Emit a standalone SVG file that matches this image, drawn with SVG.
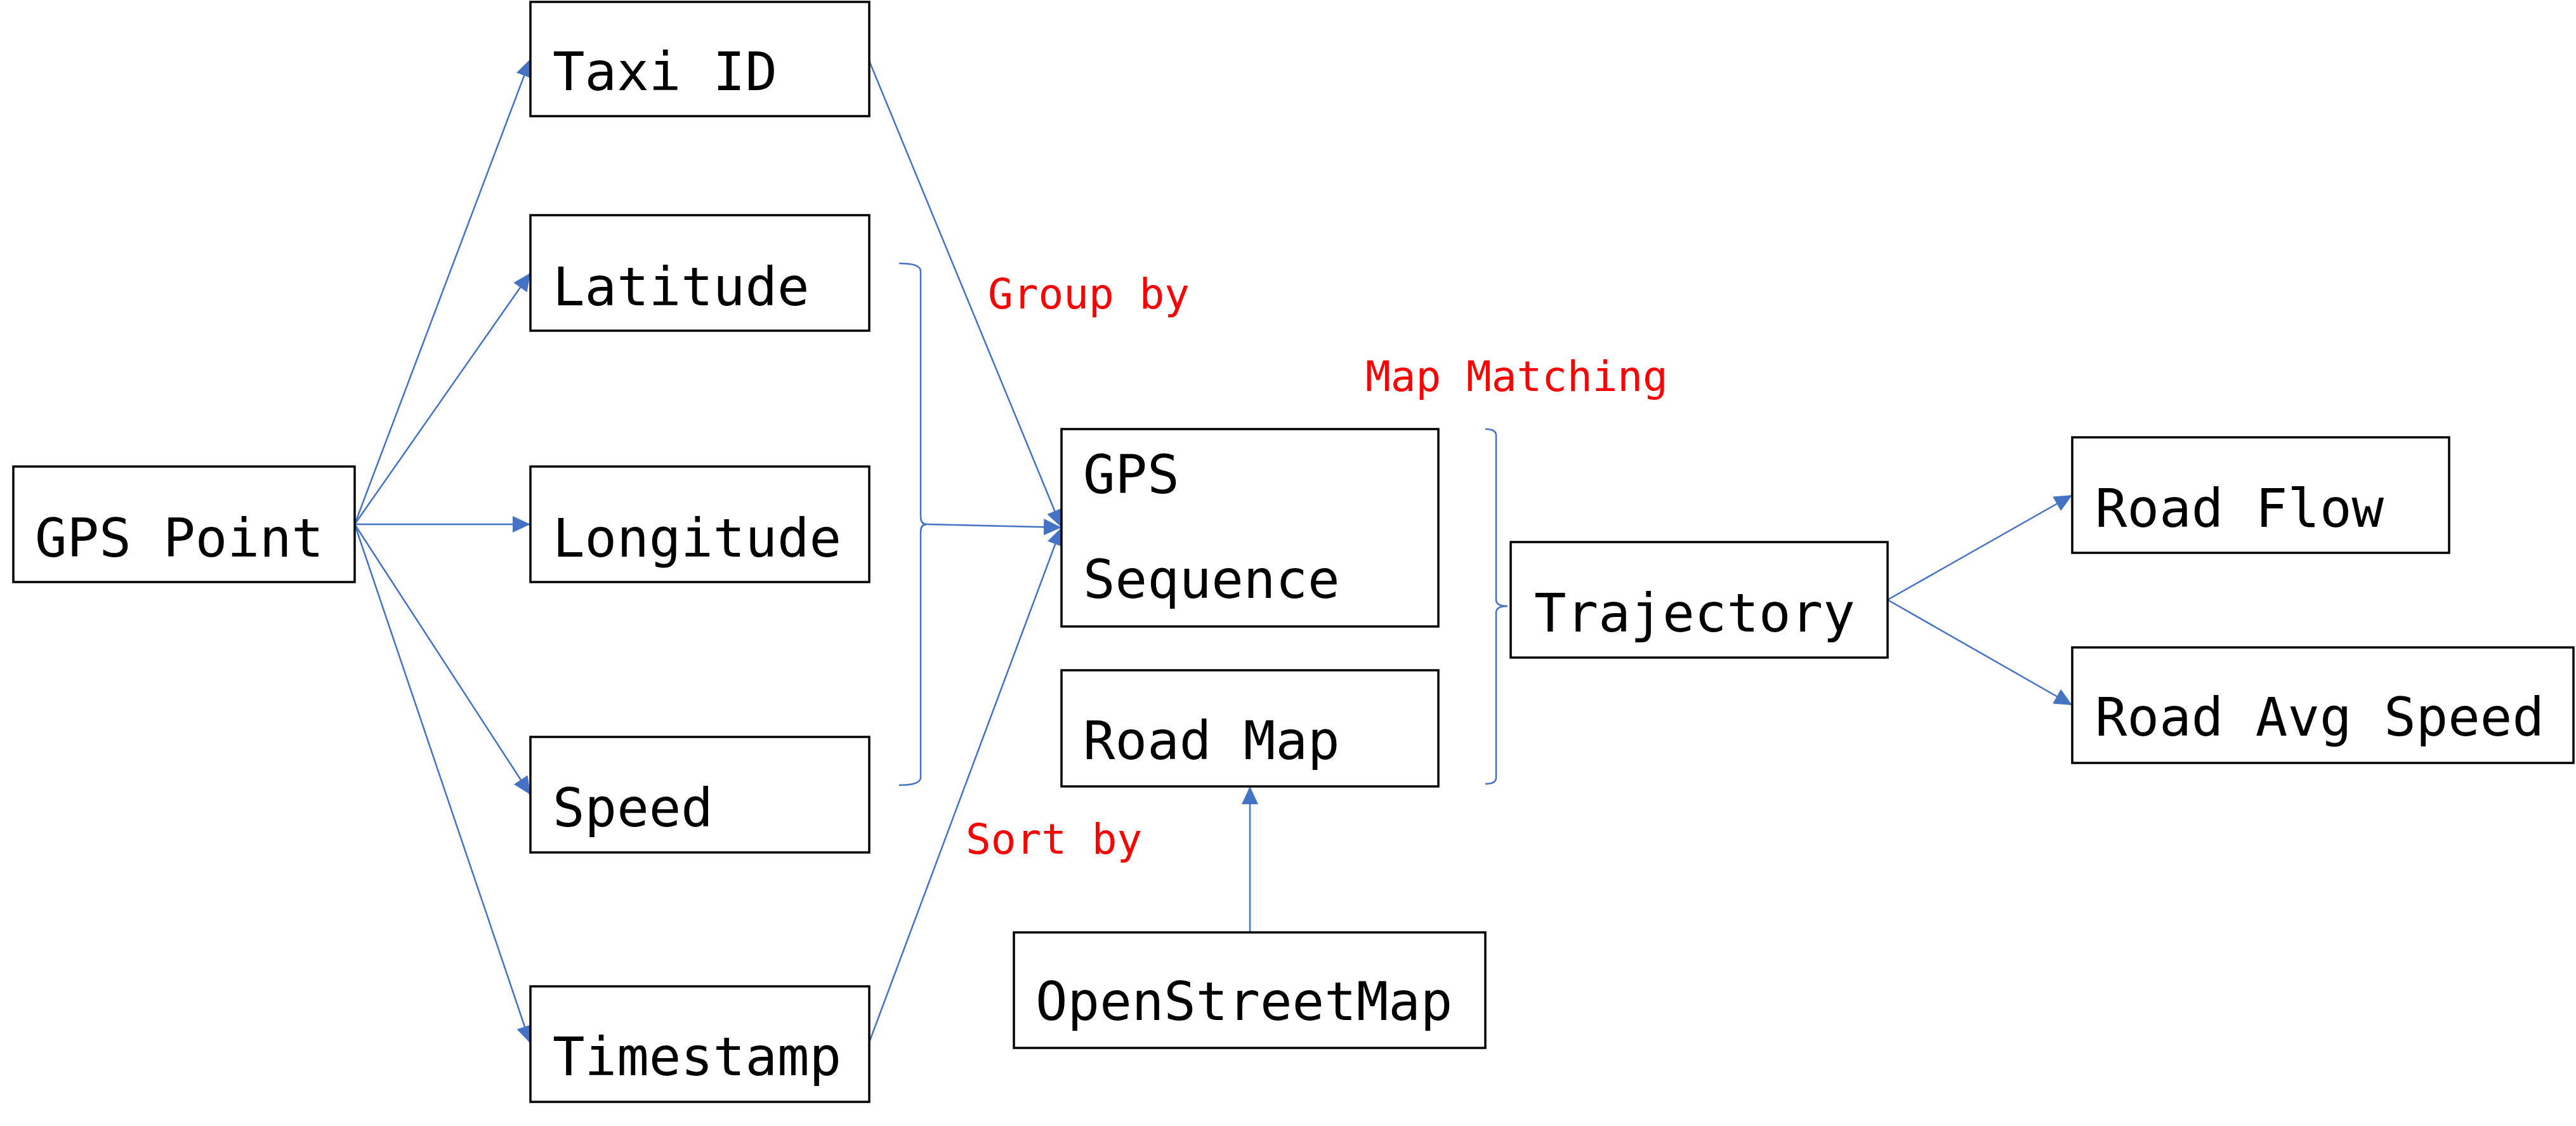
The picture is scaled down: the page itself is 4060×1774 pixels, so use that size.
<svg xmlns="http://www.w3.org/2000/svg" width="4060" height="1774" viewBox="0 0 4060 1774">
<style>
.box{fill:#fff;stroke:#000;stroke-width:3.5}
.t{font-family:"DejaVu Sans Mono","Liberation Mono",monospace;font-size:84px;fill:#000}
.r{font-family:"DejaVu Sans Mono","Liberation Mono",monospace;font-size:66px;fill:#ff0000}
.c{fill:none;stroke:#4472C4;stroke-width:2.5}
</style>
<defs>
<marker id="ah" markerUnits="userSpaceOnUse" markerWidth="30" markerHeight="26" refX="28" refY="13" orient="auto">
<path d="M0,0 L28,13 L0,26 Z" fill="#4472C4"/>
</marker>
</defs>
<rect width="4060" height="1774" fill="#fff"/>
<g id="connectors">
<line class="c" x1="559" y1="826" x2="836" y2="93" marker-end="url(#ah)"/>
<line class="c" x1="559" y1="826" x2="836" y2="430" marker-end="url(#ah)"/>
<line class="c" x1="559" y1="826" x2="836" y2="826" marker-end="url(#ah)"/>
<line class="c" x1="559" y1="826" x2="836" y2="1252" marker-end="url(#ah)"/>
<line class="c" x1="559" y1="826" x2="836" y2="1644" marker-end="url(#ah)"/>
<line class="c" x1="1370" y1="96" x2="1673" y2="831" marker-end="url(#ah)"/>
<line class="c" x1="1370" y1="1642" x2="1673" y2="831" marker-end="url(#ah)"/>
<line class="c" x1="1461" y1="826" x2="1673" y2="831" marker-end="url(#ah)"/>
<path class="c" d="M1417,415 Q1451,415 1451,427 L1451,814 Q1451,826 1461,826 Q1451,826 1451,838 L1451,1225 Q1451,1237 1417,1237"/>
<path class="c" d="M2341,676 Q2358,676 2358,686 L2358,945 Q2358,955 2376,955 Q2358,955 2358,965 L2358,1225 Q2358,1235 2341,1235"/>
<line class="c" x1="1970" y1="1469" x2="1970" y2="1239" marker-end="url(#ah)"/>
<line class="c" x1="2975" y1="945" x2="3266" y2="780" marker-end="url(#ah)"/>
<line class="c" x1="2975" y1="945" x2="3266" y2="1111" marker-end="url(#ah)"/>
</g>
<g id="gps-point"><rect class="box" x="21" y="735" width="538" height="182"/><text class="t" x="55" y="877">GPS Point</text></g>
<g id="taxi-id"><rect class="box" x="836" y="3" width="534" height="180"/><text class="t" x="871" y="142">Taxi ID</text></g>
<g id="latitude"><rect class="box" x="836" y="339" width="534" height="182"/><text class="t" x="871" y="481">Latitude</text></g>
<g id="longitude"><rect class="box" x="836" y="735" width="534" height="182"/><text class="t" x="871" y="877">Longitude</text></g>
<g id="speed"><rect class="box" x="836" y="1161" width="534" height="182"/><text class="t" x="871" y="1302">Speed</text></g>
<g id="timestamp"><rect class="box" x="836" y="1554" width="534" height="182"/><text class="t" x="871" y="1694">Timestamp</text></g>
<g id="gps-sequence"><rect class="box" x="1673" y="676" width="594" height="311"/><text class="t" x="1707" y="777">GPS</text><text class="t" x="1707" y="942">Sequence</text></g>
<g id="road-map"><rect class="box" x="1673" y="1056" width="594" height="183"/><text class="t" x="1707" y="1196">Road Map</text></g>
<g id="openstreetmap"><rect class="box" x="1598" y="1469" width="743" height="182"/><text class="t" x="1632" y="1607">OpenStreetMap</text></g>
<g id="trajectory"><rect class="box" x="2381" y="854" width="594" height="182"/><text class="t" x="2418" y="995">Trajectory</text></g>
<g id="road-flow"><rect class="box" x="3266" y="689" width="594" height="182"/><text class="t" x="3302" y="830">Road Flow</text></g>
<g id="road-avg-speed"><rect class="box" x="3266" y="1020" width="790" height="182"/><text class="t" x="3302" y="1159">Road Avg Speed</text></g>
<g id="labels">
<text class="r" x="1557" y="486">Group by</text>
<text class="r" x="2152" y="616">Map Matching</text>
<text class="r" x="1522" y="1345">Sort by</text>
</g>
</svg>
